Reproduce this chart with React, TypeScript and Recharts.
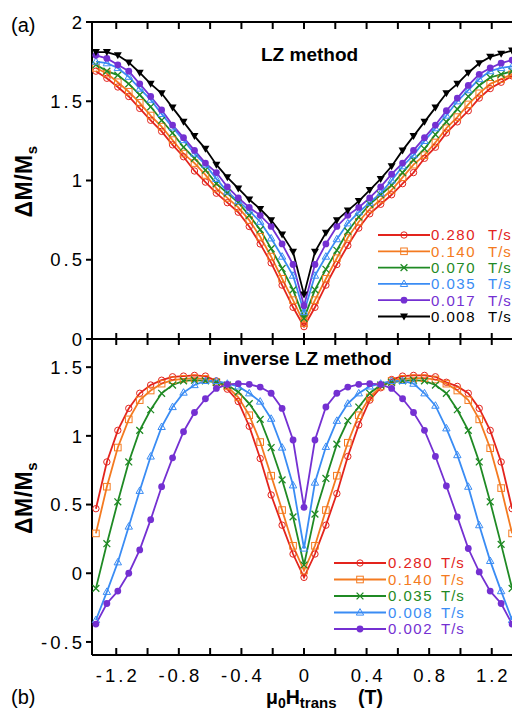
import React from 'react';
import { LineChart, Line, XAxis, YAxis, Legend } from 'recharts';

const FONT = "'Liberation Sans', Arial, Helvetica, sans-serif";

// ---------- data ----------
const fieldT = [
  -1.33, -1.26, -1.19, -1.12, -1.05, -0.98, -0.91, -0.84, -0.77, -0.7, -0.63, -0.56, -0.49, -0.42, -0.35, -0.28, -0.21, -0.14, -0.07, 0,
  0.07, 0.14, 0.21, 0.28, 0.35, 0.42, 0.49, 0.56, 0.63, 0.7, 0.77, 0.84, 0.91, 0.98, 1.05, 1.12, 1.19, 1.26, 1.33,
];

const xTickValues = [-1.2, -1.0, -0.8, -0.6, -0.4, -0.2, 0, 0.2, 0.4, 0.6, 0.8, 1.0, 1.2];
const xTickLabels = ['-1.2', '', '-0.8', '', '-0.4', '', '0', '', '0.4', '', '0.8', '', '1.2'];
const topYTicks = [0, 0.5, 1, 1.5, 2];
const topYLabels = ['0', '0.5', '1', '1.5', '2'];
const botYTicks = [-0.5, 0, 0.5, 1, 1.5];
const botYLabels = ['-0.5', '0', '0.5', '1', '1.5'];

// (a) LZ method
const lzRates = ['0.280', '0.140', '0.070', '0.035', '0.017', '0.008'];
const lz0280 = [1.69, 1.645, 1.59, 1.53, 1.455, 1.38, 1.31, 1.225, 1.15, 1.06, 0.99, 0.92, 0.86, 0.8, 0.71, 0.6, 0.48, 0.34, 0.2, 0.078,
  0.2, 0.34, 0.47, 0.59, 0.7, 0.79, 0.85, 0.91, 0.98, 1.05, 1.14, 1.21, 1.3, 1.37, 1.44, 1.52, 1.58, 1.62, 1.66];
const lz0140 = [1.71, 1.675, 1.62, 1.56, 1.49, 1.41, 1.34, 1.255, 1.17, 1.11, 1.035, 0.95, 0.89, 0.83, 0.75, 0.645, 0.52, 0.38, 0.245, 0.1,
  0.245, 0.38, 0.51, 0.64, 0.74, 0.82, 0.88, 0.94, 1.02, 1.1, 1.16, 1.24, 1.33, 1.4, 1.48, 1.55, 1.61, 1.64, 1.67];
const lz0070 = [1.73, 1.69, 1.665, 1.61, 1.54, 1.465, 1.38, 1.3, 1.21, 1.14, 1.066, 0.98, 0.92, 0.86, 0.78, 0.69, 0.57, 0.445, 0.31, 0.13,
  0.31, 0.44, 0.56, 0.68, 0.77, 0.85, 0.91, 0.97, 1.05, 1.13, 1.2, 1.29, 1.37, 1.45, 1.53, 1.6, 1.65, 1.67, 1.69];
const lz0035 = [1.75, 1.74, 1.71, 1.655, 1.58, 1.51, 1.42, 1.335, 1.255, 1.17, 1.1, 1.01, 0.93, 0.87, 0.81, 0.74, 0.635, 0.52, 0.4, 0.17,
  0.4, 0.52, 0.63, 0.73, 0.8, 0.86, 0.92, 1.0, 1.09, 1.16, 1.25, 1.33, 1.41, 1.5, 1.57, 1.64, 1.69, 1.71, 1.72];
const lz0017 = [1.79, 1.77, 1.73, 1.69, 1.61, 1.53, 1.445, 1.35, 1.27, 1.19, 1.11, 1.05, 0.96, 0.89, 0.83, 0.78, 0.71, 0.6, 0.47, 0.21,
  0.47, 0.6, 0.71, 0.78, 0.83, 0.89, 0.96, 1.04, 1.11, 1.19, 1.27, 1.35, 1.44, 1.52, 1.6, 1.67, 1.71, 1.74, 1.76];
const lz0008 = [1.81, 1.81, 1.79, 1.745, 1.68, 1.61, 1.55, 1.46, 1.37, 1.28, 1.2, 1.1, 1.02, 0.95, 0.88, 0.82, 0.75, 0.66, 0.55, 0.28,
  0.55, 0.67, 0.75, 0.81, 0.87, 0.94, 1.01, 1.09, 1.19, 1.28, 1.37, 1.46, 1.55, 1.61, 1.68, 1.74, 1.78, 1.8, 1.82];

// (b) inverse LZ method
const invRates = ['0.280', '0.140', '0.035', '0.008', '0.002'];
const inv0280 = [0.47, 0.81, 1.04, 1.2, 1.31, 1.37, 1.405, 1.43, 1.435, 1.44, 1.435, 1.4, 1.34, 1.25, 1.07, 0.835, 0.57, 0.35, 0.14, -0.03,
  0.14, 0.35, 0.58, 0.85, 1.08, 1.26, 1.35, 1.41, 1.435, 1.44, 1.44, 1.43, 1.39, 1.36, 1.31, 1.2, 1.04, 0.81, 0.47];
const inv0140 = [0.29, 0.63, 0.915, 1.12, 1.26, 1.33, 1.38, 1.405, 1.415, 1.42, 1.415, 1.39, 1.36, 1.28, 1.15, 0.955, 0.71, 0.46, 0.2, 0.02,
  0.2, 0.46, 0.71, 0.95, 1.15, 1.28, 1.36, 1.4, 1.415, 1.42, 1.42, 1.41, 1.38, 1.33, 1.26, 1.12, 0.91, 0.62, 0.29];
const inv0035 = [-0.11, 0.215, 0.52, 0.81, 1.04, 1.19, 1.31, 1.37, 1.4, 1.405, 1.4, 1.39, 1.37, 1.32, 1.235, 1.12, 0.915, 0.68, 0.41, 0.06,
  0.43, 0.69, 0.94, 1.11, 1.21, 1.31, 1.37, 1.39, 1.4, 1.405, 1.4, 1.37, 1.31, 1.19, 1.04, 0.81, 0.52, 0.21, -0.11];
const inv0008 = [-0.34, -0.135, 0.08, 0.34, 0.6, 0.85, 1.065, 1.21, 1.315, 1.37, 1.4, 1.4, 1.38, 1.36, 1.31, 1.25, 1.125, 0.915, 0.64, 0.18,
  0.66, 0.92, 1.11, 1.235, 1.31, 1.36, 1.38, 1.4, 1.4, 1.38, 1.31, 1.22, 1.055, 0.86, 0.63, 0.35, 0.09, -0.13, -0.34];
const inv0002 = [-0.37, -0.22, -0.13, 0.0, 0.17, 0.39, 0.63, 0.84, 1.03, 1.17, 1.27, 1.345, 1.375, 1.38, 1.375, 1.355, 1.31, 1.2, 0.97, 0.48,
  0.97, 1.21, 1.31, 1.355, 1.375, 1.38, 1.375, 1.345, 1.27, 1.17, 1.04, 0.85, 0.635, 0.41, 0.18, 0.01, -0.13, -0.22, -0.37];

// ---------- styles ----------
const RED = '#e3241d';
const ORANGE = '#f47a20';
const GREEN = '#1f8a24';
const BLUE = '#3a8cf4';
const PURPLE = '#7430d2';
const BLACK = '#000000';

type Shape = 'circleOpen' | 'squareOpen' | 'cross' | 'triOpen' | 'circleFill' | 'triDown';

const lzSeries: { key: string; values: number[]; color: string; shape: Shape }[] = [
  { key: 'a0', values: lz0280, color: RED, shape: 'circleOpen' },
  { key: 'a1', values: lz0140, color: ORANGE, shape: 'squareOpen' },
  { key: 'a2', values: lz0070, color: GREEN, shape: 'cross' },
  { key: 'a3', values: lz0035, color: BLUE, shape: 'triOpen' },
  { key: 'a4', values: lz0017, color: PURPLE, shape: 'circleFill' },
  { key: 'a5', values: lz0008, color: BLACK, shape: 'triDown' },
];
const invSeries: { key: string; values: number[]; color: string; shape: Shape }[] = [
  { key: 'b0', values: inv0280, color: RED, shape: 'circleOpen' },
  { key: 'b1', values: inv0140, color: ORANGE, shape: 'squareOpen' },
  { key: 'b2', values: inv0035, color: GREEN, shape: 'cross' },
  { key: 'b3', values: inv0008, color: BLUE, shape: 'triOpen' },
  { key: 'b4', values: inv0002, color: PURPLE, shape: 'circleFill' },
];

const topRows = fieldT.map((x, i) => {
  const r: any = { x };
  lzSeries.forEach((s) => (r[s.key] = s.values[i]));
  return r;
});
const botRows = fieldT.map((x, i) => {
  const r: any = { x };
  invSeries.forEach((s) => (r[s.key] = s.values[i]));
  return r;
});

// ---------- marks ----------
function Marker({ cx, cy, shape, color }: { cx?: number; cy?: number; shape: Shape; color: string }) {
  if (cx == null || cy == null || isNaN(cx) || isNaN(cy)) return null;
  switch (shape) {
    case 'circleOpen':
      return <circle cx={cx} cy={cy} r={3.2} fill="none" stroke={color} strokeWidth={1} />;
    case 'squareOpen':
      return <rect x={cx - 3.3} y={cy - 3.3} width={6.6} height={6.6} fill="none" stroke={color} strokeWidth={1} />;
    case 'cross':
      return (
        <path
          d={`M${cx - 3.4},${cy - 3.4}L${cx + 3.4},${cy + 3.4}M${cx - 3.4},${cy + 3.4}L${cx + 3.4},${cy - 3.4}`}
          stroke={color}
          strokeWidth={1.3}
          fill="none"
        />
      );
    case 'triOpen':
      return <path d={`M${cx},${cy - 3.9}L${cx + 3.7},${cy + 2.6}L${cx - 3.7},${cy + 2.6}Z`} fill="none" stroke={color} strokeWidth={1} />;
    case 'circleFill':
      return <circle cx={cx} cy={cy} r={3.4} fill={color} />;
    case 'triDown':
      return <path d={`M${cx - 4},${cy - 3}L${cx + 4},${cy - 3}L${cx},${cy + 4}Z`} fill={color} />;
  }
  return null;
}

const tickLabelFor = (v: number) => {
  let best = 0;
  xTickValues.forEach((t, i) => {
    if (Math.abs(t - v) < Math.abs(xTickValues[best] - v)) best = i;
  });
  return xTickLabels[best];
};

const XTick = (props: any) => {
  const { x, y, payload, variant } = props;
  if (x == null || y == null) return null;
  if (variant === 'down') {
    return <line x1={x} x2={x} y1={y} y2={y + 7} stroke="#000" strokeWidth={2} />;
  }
  if (variant === 'cross') {
    return <line x1={x} x2={x} y1={y - 6} y2={y + 6} stroke="#000" strokeWidth={2} />;
  }
  const label = tickLabelFor(payload.value);
  return (
    <g>
      <line x1={x} x2={x} y1={y} y2={y - 7} stroke="#000" strokeWidth={2} />
      {label ? (
        <text x={x + 1.5} y={y + 27} textAnchor="middle" fontFamily={FONT} fontSize={18.5} letterSpacing={3} fill="#000">
          {label}
        </text>
      ) : null}
    </g>
  );
};

const YTick = (props: any) => {
  const { x, y, payload, labels, values } = props;
  let idx = 0;
  (values as number[]).forEach((t, i) => {
    if (Math.abs(t - payload.value) < Math.abs(values[idx] - payload.value)) idx = i;
  });
  return (
    <text x={x + 3} y={y + 6.7} textAnchor="end" fontFamily={FONT} fontSize={18.5} letterSpacing={3} fill="#000">
      {labels[idx]}
    </text>
  );
};

const TopDecor = (props: any) => {
  const vb = props.viewBox && props.viewBox.height ? props.viewBox : { x: 0, y: 22, width: 92, height: 317 };
  const midY = vb.y + vb.height / 2;
  return (
    <g fontFamily={FONT} fill="#000">
      <text x={11} y={32} fontSize={20}>(a)</text>
      <text transform={`translate(32,${midY + 1}) rotate(-90)`} textAnchor="middle" fontSize={23} fontWeight="bold" letterSpacing={0.5}>
        ΔM/M<tspan fontSize={15} dy={5}>s</tspan>
      </text>
      <text x={261} y={61} fontSize={19} fontWeight="bold">LZ method</text>
    </g>
  );
};

const BotDecor = (props: any) => {
  const vb = props.viewBox && props.viewBox.height ? props.viewBox : { x: 0, y: 20, width: 92, height: 316 };
  const midY = vb.y + vb.height / 2;
  return (
    <g fontFamily={FONT} fill="#000">
      <text transform={`translate(32,${midY + 1}) rotate(-90)`} textAnchor="middle" fontSize={23} fontWeight="bold" letterSpacing={0.5}>
        ΔM/M<tspan fontSize={15} dy={5}>s</tspan>
      </text>
      <text x={223} y={46} fontSize={19} fontWeight="bold">inverse LZ method</text>
      <text x={11} y={385} fontSize={20} fontWeight="normal">(b)</text>
      <text x={266} y={385} fontSize={19.5} fontWeight="bold">
        μ<tspan fontSize={14} dy={4}>0</tspan>
        <tspan fontSize={19.5} dy={-4}>H</tspan>
        <tspan fontSize={15} dy={4}>trans</tspan>
        <tspan fontSize={19.5} dy={-4} x={358}>(T)</tspan>
      </text>
    </g>
  );
};

const LegendBox = ({ series, rates, step, rateX, unitX }: any) => (
  <svg width={160} height={rates.length * step + 12} style={{ display: 'block', overflow: 'visible' }}>
    {series.map((s: any, i: number) => {
      const y = 8 + i * step;
      return (
        <g key={s.key}>
          <line x1={0} x2={52} y1={y} y2={y} stroke={s.color} strokeWidth={1.8} />
          <Marker cx={26} cy={y} shape={s.shape} color={s.color} />
          <text x={rateX} y={y + 5.4} fill={s.color} fontFamily={FONT} fontSize={15} letterSpacing={1.5}>
            {rates[i]}
          </text>
          <text x={unitX} y={y + 5.4} fill={s.color} fontFamily={FONT} fontSize={15} letterSpacing={1}>
            T/s
          </text>
        </g>
      );
    })}
  </svg>
);

const axisLine = { stroke: '#000', strokeWidth: 2 };

export default function App() {
  return (
    <div style={{ position: 'absolute', left: 0, top: 0, width: 512, height: 711, overflow: 'hidden', background: '#fff' }}>
      <div style={{ position: 'absolute', left: 0, top: 0 }}>
        <LineChart width={520} height={359} data={topRows} margin={{ top: 2, right: 4, bottom: 0, left: 0 }}>
          <XAxis
            xAxisId="t"
            orientation="top"
            dataKey="x"
            type="number"
            domain={[-1.355, 1.355]}
            ticks={xTickValues}
            interval={0}
            height={20}
            axisLine={axisLine}
            tickLine={false}
            tickSize={0}
            tickMargin={0}
            tick={<XTick variant="down" />}
          />
          <XAxis
            xAxisId="b"
            orientation="bottom"
            dataKey="x"
            type="number"
            domain={[-1.355, 1.355]}
            ticks={xTickValues}
            interval={0}
            height={20}
            axisLine={axisLine}
            tickLine={false}
            tickSize={0}
            tickMargin={0}
            tick={<XTick variant="cross" />}
          />
          <YAxis
            type="number"
            domain={[0, 2]}
            ticks={topYTicks}
            interval={0}
            width={92}
            axisLine={axisLine}
            tickLine={{ stroke: '#000', strokeWidth: 2 }}
            tickSize={6}
            tickMargin={4}
            tick={<YTick labels={topYLabels} values={topYTicks} />}
            label={{ content: (p: any) => <TopDecor {...p} /> }}
          />
          <Legend
            layout="horizontal"
            verticalAlign="middle"
            align="center"
            wrapperStyle={{ position: 'absolute', left: 378, top: 227, width: 160, height: 110 }}
            content={() => <LegendBox series={lzSeries} rates={lzRates} step={16.3} rateX={53} unitX={110} />}
          />
          {lzSeries.map((s) => (
            <Line
              key={s.key}
              xAxisId="b"
              dataKey={s.key}
              stroke={s.color}
              strokeWidth={1.8}
              type="linear"
              isAnimationActive={false}
              activeDot={false}
              dot={(p: any) => <Marker key={`${s.key}-${p.index}`} cx={p.cx} cy={p.cy} shape={s.shape} color={s.color} />}
            />
          ))}
        </LineChart>
      </div>
      <div style={{ position: 'absolute', left: 0, top: 319 }}>
        <LineChart width={520} height={392} data={botRows} margin={{ top: 0, right: 4, bottom: 0, left: 0 }}>
          <XAxis
            xAxisId="t"
            orientation="top"
            dataKey="x"
            type="number"
            domain={[-1.355, 1.355]}
            ticks={xTickValues}
            height={20}
            axisLine={axisLine}
            tickLine={false}
            tick={false}
          />
          <XAxis
            xAxisId="b"
            orientation="bottom"
            dataKey="x"
            type="number"
            domain={[-1.355, 1.355]}
            ticks={xTickValues}
            interval={0}
            height={56}
            axisLine={axisLine}
            tickLine={false}
            tickSize={0}
            tickMargin={0}
            tick={<XTick variant="bottom" />}
          />
          <YAxis
            type="number"
            domain={[-0.595, 1.705]}
            ticks={botYTicks}
            interval={0}
            width={92}
            axisLine={axisLine}
            tickLine={{ stroke: '#000', strokeWidth: 2 }}
            tickSize={6}
            tickMargin={4}
            tick={<YTick labels={botYLabels} values={botYTicks} />}
            label={{ content: (p: any) => <BotDecor {...p} /> }}
          />
          <Legend
            layout="horizontal"
            verticalAlign="middle"
            align="center"
            wrapperStyle={{ position: 'absolute', left: 334, top: 236, width: 160, height: 100 }}
            content={() => <LegendBox series={invSeries} rates={invRates} step={16.5} rateX={54} unitX={107} />}
          />
          {invSeries.map((s) => (
            <Line
              key={s.key}
              xAxisId="b"
              dataKey={s.key}
              stroke={s.color}
              strokeWidth={1.8}
              type="linear"
              isAnimationActive={false}
              activeDot={false}
              dot={(p: any) => <Marker key={`${s.key}-${p.index}`} cx={p.cx} cy={p.cy} shape={s.shape} color={s.color} />}
            />
          ))}
        </LineChart>
      </div>
    </div>
  );
}
